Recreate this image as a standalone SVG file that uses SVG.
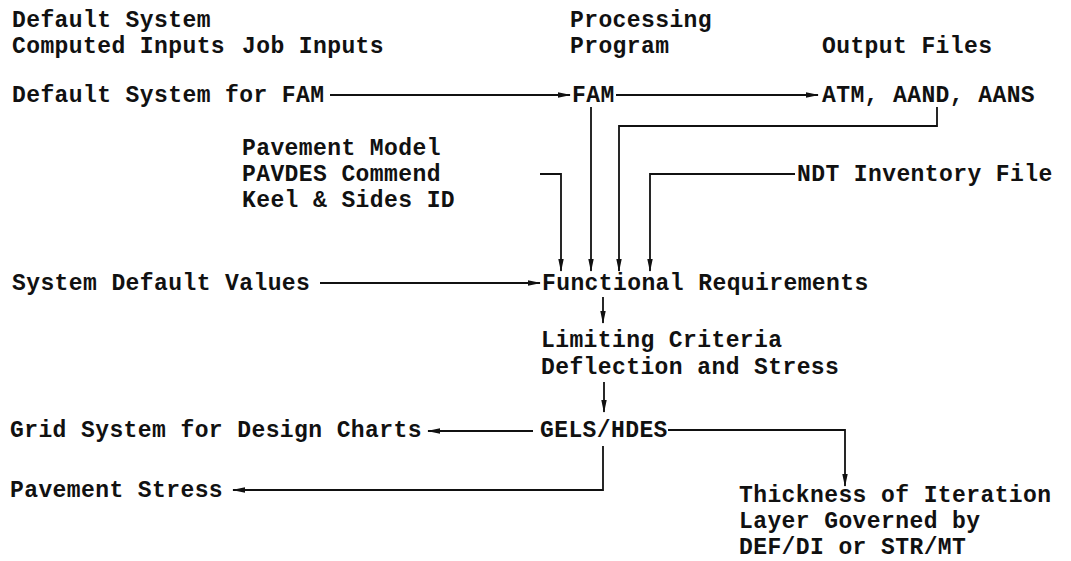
<svg xmlns="http://www.w3.org/2000/svg" width="1071" height="561" viewBox="0 0 1071 561">
<style>
text{font-family:"Liberation Mono","Courier New",monospace;font-size:23px;font-weight:bold;letter-spacing:0.4px;fill:#111}
.c{fill:none;stroke:#111;stroke-width:1.8}
</style>
<defs>
<marker id="ah" viewBox="0 0 13 7" refX="12" refY="3.5" markerWidth="13" markerHeight="7" markerUnits="userSpaceOnUse" orient="auto">
<path d="M0,0.8 L13,3.5 L0,6.2 Z" fill="#111"/>
</marker>
</defs>
<rect width="1071" height="561" fill="#fff"/>
<g id="headers">
<text x="12" y="27">Default System</text>
<text x="12" y="53">Computed Inputs</text>
<text x="242" y="53">Job Inputs</text>
<text x="570" y="27">Processing</text>
<text x="570" y="53">Program</text>
<text x="822" y="53">Output Files</text>
</g>
<g id="n-default-fam"><text x="12" y="102">Default System for FAM</text></g>
<g id="n-fam"><text x="572" y="102">FAM</text></g>
<g id="n-atm"><text x="822" y="102">ATM, AAND, AANS</text></g>
<g id="n-pavement"><text x="242" y="155">Pavement Model</text><text x="242" y="181">PAVDES Commend</text><text x="242" y="207">Keel &amp; Sides ID</text></g>
<g id="n-ndt"><text x="797" y="181">NDT Inventory File</text></g>
<g id="n-sysdefault"><text x="12" y="290">System Default Values</text></g>
<g id="n-functional"><text x="542" y="290">Functional Requirements</text></g>
<g id="n-limiting"><text x="541" y="347">Limiting Criteria</text><text x="541" y="374">Deflection and Stress</text></g>
<g id="n-gels"><text x="540" y="437">GELS/HDES</text></g>
<g id="n-grid"><text x="10" y="437">Grid System for Design Charts</text></g>
<g id="n-stress"><text x="10" y="497">Pavement Stress</text></g>
<g id="n-thickness"><text x="739" y="502">Thickness of Iteration</text><text x="739" y="528">Layer Governed by</text><text x="739" y="554">DEF/DI or STR/MT</text></g>
<g id="connectors">
<path class="c" d="M330,95 H570" marker-end="url(#ah)"/>
<path class="c" d="M616,95 H818" marker-end="url(#ah)"/>
<path class="c" d="M591,107 V271" marker-end="url(#ah)"/>
<path class="c" d="M937,107 V126 H619 V271" marker-end="url(#ah)"/>
<path class="c" d="M540,174 H561 V271" marker-end="url(#ah)"/>
<path class="c" d="M795,174 H650 V271" marker-end="url(#ah)"/>
<path class="c" d="M320,283 H540" marker-end="url(#ah)"/>
<path class="c" d="M603,297 V323" marker-end="url(#ah)"/>
<path class="c" d="M604,382 V412" marker-end="url(#ah)"/>
<path class="c" d="M668,430 H845 V486" marker-end="url(#ah)"/>
<path class="c" d="M533,431 H428" marker-end="url(#ah)"/>
<path class="c" d="M603,446 V490 H233" marker-end="url(#ah)"/>
</g>
</svg>
